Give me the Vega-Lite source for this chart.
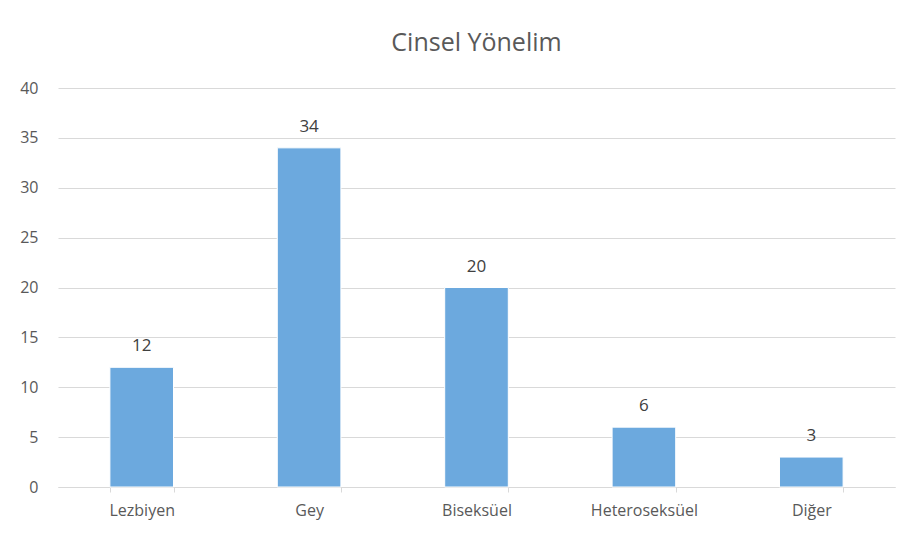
{
  "$schema": "https://vega.github.io/schema/vega-lite/v6.json",
  "width": 837,
  "height": 399,
  "autosize": "none",
  "padding": {"left": 58, "top": 88, "right": 21, "bottom": 50},
  "background": "white",
  "config": {
    "view": {"stroke": null},
    "font": "Open Sans"
  },
  "title": {
    "text": "Cinsel Yönelim",
    "fontSize": 25,
    "font": "Open Sans",
    "fontWeight": "normal",
    "color": "#595959",
    "anchor": "middle",
    "offset": 24
  },
  "data": {
    "values": [
      {"kategori": "Lezbiyen", "sayi": 12},
      {"kategori": "Gey", "sayi": 34},
      {"kategori": "Biseksüel", "sayi": 20},
      {"kategori": "Heteroseksüel", "sayi": 6},
      {"kategori": "Diğer", "sayi": 3}
    ]
  },
  "encoding": {
    "x": {
      "field": "kategori",
      "type": "nominal",
      "sort": null,
      "scale": {"paddingInner": 0.62, "paddingOuter": 0.31},
      "axis": {
        "title": null,
        "labelAngle": 0,
        "labelFontSize": 16,
        "labelColor": "#595959",
        "labelPadding": 10,
        "domainColor": "#D9D9D9",
        "tickColor": "#D9D9D9",
        "tickSize": 5,
        "tickBand": "extent",
        "grid": false
      }
    },
    "y": {
      "field": "sayi",
      "type": "quantitative",
      "scale": {"domain": [0, 40]},
      "axis": {
        "title": null,
        "values": [0, 5, 10, 15, 20, 25, 30, 35, 40],
        "labelFontSize": 16,
        "labelColor": "#595959",
        "labelPadding": 20,
        "ticks": false,
        "domain": false,
        "gridColor": "#D9D9D9",
        "gridWidth": 1
      }
    }
  },
  "layer": [
    {
      "mark": {"type": "bar", "color": "#6CA9DE", "stroke": "white", "strokeWidth": 1}
    },
    {
      "mark": {"type": "text", "baseline": "bottom", "dy": -12, "fontSize": 17, "color": "#404040"},
      "encoding": {"text": {"field": "sayi", "type": "quantitative"}}
    }
  ]
}
